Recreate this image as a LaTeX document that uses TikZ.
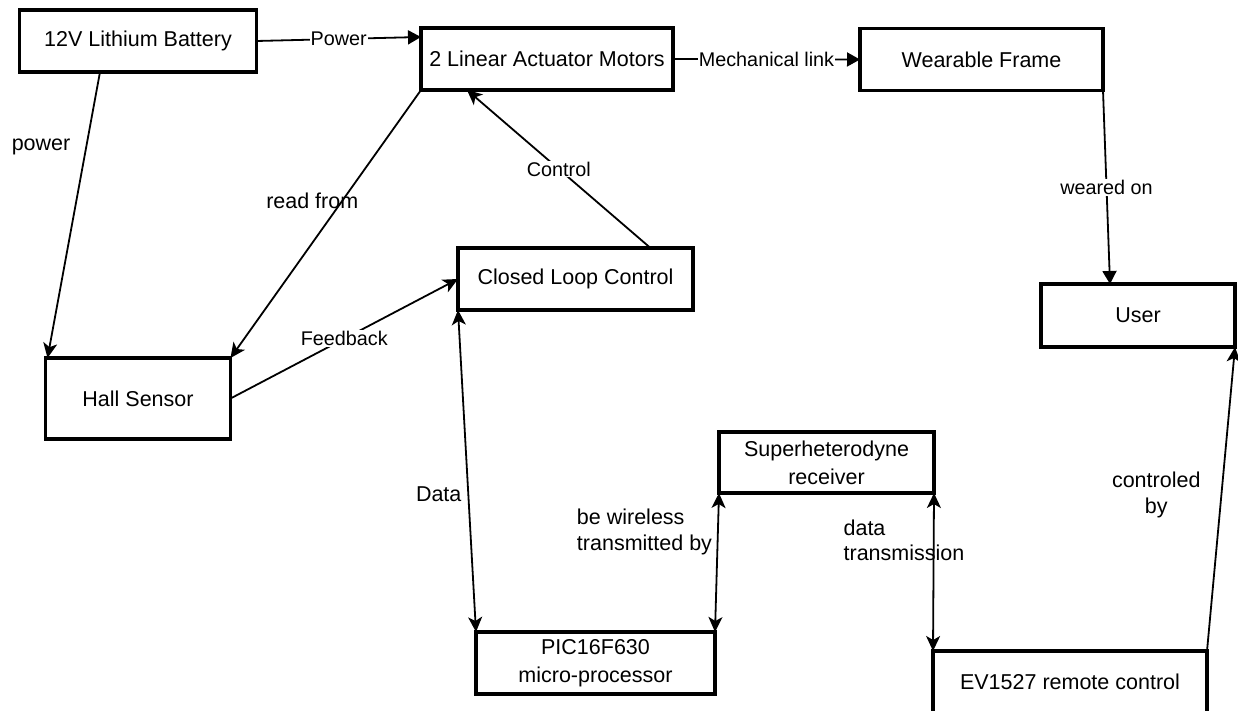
\documentclass[tikz,border=0pt]{standalone}
\usepackage{fontspec}
\setmainfont{Liberation Sans}
\usetikzlibrary{arrows.meta,positioning}

\tikzset{
  unit/.style={draw, line width=3.6pt, fill=white, align=center, inner sep=0pt, outer sep=0pt,
    font=\fontsize{21.5pt}{28pt}\selectfont},
  lbl/.style={font=\fontsize{21.5pt}{25.5pt}\selectfont, inner sep=1pt},
  onwire/.style={font=\fontsize{19.8pt}{24pt}\selectfont, inner sep=1pt, fill=white},
  link/.style={line width=1.8pt, -{Stealth[length=15pt,width=14pt,inset=4pt]}},
  duplex/.style={line width=1.8pt, {Stealth[length=15pt,width=14pt,inset=4pt]}-{Stealth[length=15pt,width=14pt,inset=4pt]}},
  push/.style={line width=1.8pt, -{Triangle[length=13pt,width=14pt]}},
}

\begin{document}
\begin{tikzpicture}[x=1pt, y=-1pt]
  \fill[white] (0,0) rectangle (1238,711);
  \useasboundingbox (0,0) rectangle (1238,711);

  % Blocks
  \node[unit, minimum width=237pt, minimum height=62pt] (batt) at (138,41) {12V Lithium Battery};
  \node[unit, minimum width=252pt, minimum height=62pt] (motor) at (547,59) {2 Linear Actuator Motors};
  \node[unit, minimum width=243pt, minimum height=62pt] (frame) at (981.5,59.5) {Wearable Frame};
  \node[unit, minimum width=194pt, minimum height=63pt] (user) at (1138,315.5) {User};
  \node[unit, minimum width=185pt, minimum height=81pt] (hall) at (138,398.5) {Hall Sensor};
  \node[unit, minimum width=235pt, minimum height=62pt] (clc) at (575.5,279) {Closed Loop Control};
  \node[unit, minimum width=215pt, minimum height=61pt] (rx) at (826.5,462.5) {Superheterodyne\\receiver};
  \node[unit, minimum width=239pt, minimum height=62pt] (pic) at (595.5,663) {PIC16F630\\micro-processor};
  \node[unit, minimum width=274pt, minimum height=62pt] (ev) at (1070,682) {EV1527 remote control};

  % Connections
  \draw[push] (batt.east) -- node[onwire] {Power} ([yshift=22pt]motor.west);
  \draw[push] (motor.east) -- node[onwire] {Mechanical link} (frame.west);
  \draw[push] (frame.south east) -- node[onwire] {weared on} ([xshift=-28pt]user.north);
  \draw[link] ([xshift=-38pt]batt.south) -- node[lbl, pos=.262, left=14pt] {power} ([xshift=2pt]hall.north west);
  \draw[link] (motor.south west) -- node[lbl, xshift=-13.5pt, yshift=23.5pt] {read from} (hall.north east);
  \draw[link] ([xshift=75pt]clc.north) -- node[onwire] {Control} ([xshift=-80pt]motor.south);
  \draw[link] (hall.east) -- node[onwire] {Feedback} (clc.west);
  \draw[duplex] (clc.south west) -- node[lbl, pos=.573, left=5pt] {Data} (pic.north west);
  \draw[duplex] (pic.north east) -- node[lbl, pos=.72, left=4pt, align=left] {be wireless\\transmitted by} (rx.south west);
  \draw[duplex] (rx.south east) -- node[lbl, pos=.3, anchor=west, xshift=-92pt, align=left] {data\\transmission} (ev.north west);
  \draw[link] (ev.north east) -- node[lbl, pos=.513, left=19pt, align=center] {controled\\by} (user.south east);
\end{tikzpicture}
\end{document}
